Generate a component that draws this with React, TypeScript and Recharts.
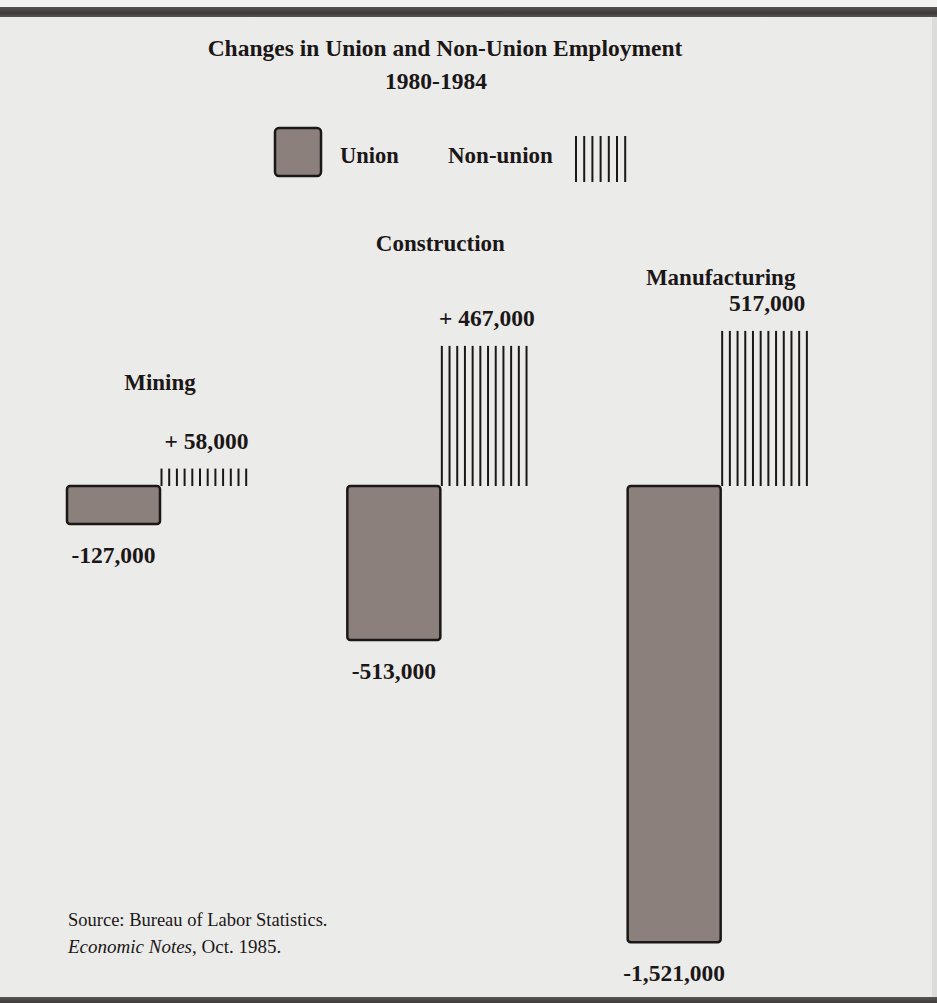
import { BarChart, Bar, XAxis, YAxis, LabelList, Legend } from "recharts";

// Changes 1980-1984, Bureau of Labor Statistics
const industries = ["Mining", "Construction", "Manufacturing"];
const unionChange = [-127000, -513000, -1521000];
const nonUnionChange = [58000, 467000, 517000];
const nonUnionTags = ["+ 58,000", "+ 467,000", "517,000"];

const data = industries.map((name, i) => ({
  name,
  union: unionChange[i],
  nonUnion: nonUnionChange[i],
}));

const SERIF = '"Liberation Serif", "Times New Roman", serif';
const INK = "#1b1717";
const UNION_FILL = "#8c807c";
const HATCH_STEP = 7.7;

// how far above the hatched bar each industry name sits
const nameLift = [86, 102, 53];

const norm = (p: any) => {
  const top = Math.min(p.y, p.y + p.height);
  const bottom = Math.max(p.y, p.y + p.height);
  return { top, bottom, h: bottom - top };
};

const UnionShape = (p: any) => {
  const { top, h } = norm(p);
  return (
    <rect
      x={p.x}
      y={top}
      width={p.width}
      height={h}
      rx={3}
      fill={UNION_FILL}
      stroke={INK}
      strokeWidth={2.5}
    />
  );
};

const HatchShape = (p: any) => {
  const { top, bottom } = norm(p);
  const lines = [];
  for (let lx = p.x + 1.5; lx <= p.x + p.width; lx += HATCH_STEP) {
    lines.push(
      <line key={lx} x1={lx} x2={lx} y1={top} y2={bottom} stroke={INK} strokeWidth={2} />
    );
  }
  return <g>{lines}</g>;
};

const UnionLabel = (p: any) => {
  const { bottom } = norm(p);
  return (
    <text
      x={p.x + p.width / 2}
      y={bottom + 31}
      textAnchor="middle"
      dominantBaseline="central"
      fontFamily={SERIF}
      fontWeight="bold"
      fontSize={23.5}
      fill={INK}
    >
      {Number(p.value).toLocaleString("en-US")}
    </text>
  );
};

const NonUnionLabel = (p: any) => {
  const { top } = norm(p);
  return (
    <g fontFamily={SERIF} fontWeight="bold" fill={INK} textAnchor="middle">
      <text x={p.x + p.width / 2} y={top - 28} dominantBaseline="central" fontSize={23.5}>
        {nonUnionTags[p.index]}
      </text>
      <text x={p.x} y={top - nameLift[p.index]} dominantBaseline="central" fontSize={23}>
        {industries[p.index]}
      </text>
    </g>
  );
};

// legend drawn with zero wrapper height so it does not shrink the plot
const LegendBox = () => (
  <svg width={937} height={200} style={{ display: "block", overflow: "visible" }}>
    <rect x={275} y={128} width={46} height={48} rx={4} fill={UNION_FILL} stroke={INK} strokeWidth={2.5} />
    <text x={340} y={155} dominantBaseline="central" fontFamily={SERIF} fontWeight="bold" fontSize={22.5} fill={INK}>
      Union
    </text>
    <text x={448} y={155} dominantBaseline="central" fontFamily={SERIF} fontWeight="bold" fontSize={23} fill={INK}>
      Non-union
    </text>
    {[0, 1, 2, 3, 4, 5, 6].map((k) => (
      <line key={k} x1={576 + k * 8.2} x2={576 + k * 8.2} y1={136} y2={182} stroke={INK} strokeWidth={2} />
    ))}
  </svg>
);

export default function App() {
  return (
    <div
      style={{
        position: "absolute",
        left: 0,
        top: 0,
        width: 937,
        height: 1003,
        background: "#ebebea",
        overflow: "hidden",
      }}
    >
      <div style={{ position: "absolute", left: 0, top: 0, width: 937, height: 7, background: "#f3f3f2" }} />
      <div
        style={{
          position: "absolute",
          left: 0,
          top: 7,
          width: 937,
          height: 10,
          background: "linear-gradient(#5a5555, #3e3a3a 60%, #565151)",
        }}
      />
      <div style={{ position: "absolute", left: 932, top: 17, width: 5, height: 980, background: "#dcdcdb" }} />
      <div
        style={{
          position: "absolute",
          left: 0,
          top: 997,
          width: 937,
          height: 6,
          background: "linear-gradient(#5a5555, #3e3a3a)",
        }}
      />

      <BarChart
        width={937}
        height={1003}
        data={data}
        margin={{ top: 306, right: 76, bottom: 37, left: 20 }}
        barGap={0}
        barSize={93}
      >
        <XAxis dataKey="name" hide />
        <YAxis hide domain={[-1600000, 600000]} />
        <Legend
          content={LegendBox}
          verticalAlign="top"
          wrapperStyle={{ position: "absolute", left: 0, top: 0, width: 937, height: 0, overflow: "visible" }}
        />
        <Bar dataKey="union" name="Union" shape={UnionShape} isAnimationActive={false}>
          <LabelList dataKey="union" content={UnionLabel} />
        </Bar>
        <Bar dataKey="nonUnion" name="Non-union" shape={HatchShape} isAnimationActive={false}>
          <LabelList dataKey="nonUnion" content={NonUnionLabel} />
        </Bar>
      </BarChart>

      <svg
        width={937}
        height={1003}
        style={{ position: "absolute", left: 0, top: 0, pointerEvents: "none" }}
      >
        <g fontFamily={SERIF} fill={INK}>
          <text x={445} y={56} textAnchor="middle" fontWeight="bold" fontSize={23.5}>
            Changes in Union and Non-Union Employment
          </text>
          <text x={436} y={89} textAnchor="middle" fontWeight="bold" fontSize={23.5}>
            1980-1984
          </text>
          <text x={68} y={926} fontSize={18.5}>
            Source: Bureau of Labor Statistics.
          </text>
          <text x={68} y={953} fontSize={19}>
            <tspan fontStyle="italic">Economic Notes</tspan>, Oct. 1985.
          </text>
        </g>
      </svg>
    </div>
  );
}
